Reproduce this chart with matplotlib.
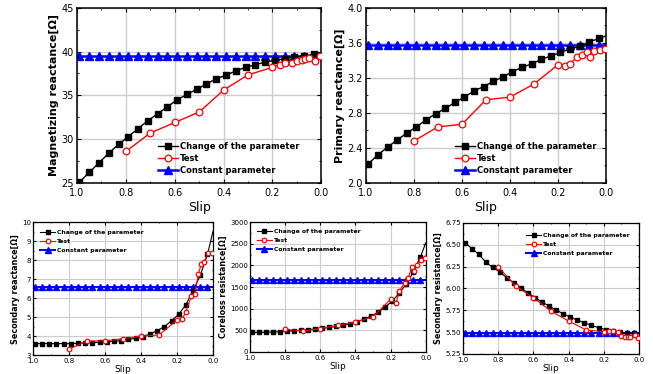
import matplotlib
matplotlib.use("Agg")
import matplotlib.pyplot as plt
from matplotlib.ticker import MultipleLocator, AutoMinorLocator, FormatStrFormatter

# ---------------- data ----------------
slip_model = [0.99, 0.95, 0.91, 0.87, 0.83, 0.79, 0.75, 0.71, 0.67, 0.63, 0.59, 0.55, 0.51,
              0.47, 0.43, 0.39, 0.35, 0.31, 0.27, 0.23, 0.19, 0.15, 0.11, 0.07, 0.03, 0.0]
slip_const = [1.0, 0.99, 0.95, 0.91, 0.87, 0.83, 0.79, 0.75, 0.71, 0.67, 0.63, 0.59, 0.55, 0.51,
              0.47, 0.43, 0.39, 0.35, 0.31, 0.27, 0.23, 0.19, 0.15, 0.11, 0.07, 0.03, 0.0]
slip_test = [0.8, 0.7, 0.6, 0.5, 0.4, 0.3, 0.2, 0.17, 0.15, 0.12, 0.1, 0.08, 0.065, 0.05, 0.025, 0.005]

mag_change = [25.1, 26.2, 27.3, 28.4, 29.4, 30.3, 31.2, 32.1, 32.9, 33.7, 34.5, 35.1, 35.7,
              36.3, 36.9, 37.3, 37.8, 38.2, 38.5, 38.8, 39.0, 39.2, 39.4, 39.5, 39.7, 39.8]
mag_test = [28.6, 30.7, 31.9, 33.1, 35.6, 37.35, 38.2, 38.5, 38.7, 38.65, 38.9, 39.05, 39.2, 39.3, 38.95, 39.5]
mag_const = 39.5

prim_change = [2.22, 2.32, 2.41, 2.49, 2.57, 2.64, 2.72, 2.79, 2.85, 2.92, 2.98, 3.05, 3.10,
               3.16, 3.21, 3.27, 3.32, 3.36, 3.41, 3.45, 3.49, 3.53, 3.56, 3.61, 3.65, 3.68]
prim_test = [2.48, 2.64, 2.67, 2.95, 2.98, 3.13, 3.35, 3.33, 3.36, 3.44, 3.46, 3.49, 3.44, 3.51, 3.52, 3.53]
prim_const = 3.58

secx_change = [3.6, 3.6, 3.6, 3.6, 3.6, 3.6, 3.62, 3.64, 3.65, 3.67, 3.70, 3.72, 3.76,
               3.82, 3.88, 3.97, 4.10, 4.28, 4.50, 4.80, 5.15, 5.65, 6.40, 7.20, 8.30, 9.50]
secx_test = [3.3, 3.74, 3.74, 3.86, 4.0, 4.05, 4.84, 4.9, 5.28, 6.1, 6.19, 7.29, 7.78, 7.9, 8.38, 8.38]
secx_const = 6.57

core_change = [450, 450, 455, 460, 470, 480, 490, 500, 515, 530, 545, 565, 590,
               620, 655, 700, 760, 830, 920, 1040, 1180, 1360, 1580, 1850, 2200, 2520]
core_test = [523, 485, 540, 615, 692, 810, 1220, 1124, 1405, 1605, 1700, 1965, 1880, 2012, 2128, 2168]
core_const = 1670

secr_change = [6.525, 6.457, 6.39, 6.30, 6.24, 6.186, 6.12, 6.065, 6.004, 5.95, 5.893, 5.844, 5.798,
               5.752, 5.71, 5.672, 5.638, 5.608, 5.577, 5.55, 5.53, 5.51, 5.50, 5.49, 5.486, 5.48]
secr_test = [6.247, 6.027, 5.893, 5.74, 5.627, 5.524, 5.505, 5.51, 5.51, 5.505, 5.455, 5.45, 5.44, 5.45, 5.463, 5.437]
secr_const = 5.485

labels = ["Change of the parameter", "Test", "Constant parameter"]

# ---------------- figure ----------------
plt.rcParams['font.family'] = ['DejaVu Sans']
fig = plt.figure(figsize=(6.53, 3.74), dpi=100)

def make_axes(rect, change, test, const, ylim, ymaj, yfmt, ylabel, big, leg_anchor):
    ax = fig.add_axes(rect)
    ms = 4.8 if big else 3.3
    lw = 1.0 if big else 0.8
    tfs = 7 if big else 5
    lfs = 8 if big else 5.8
    legfs = 6 if big else 4.4
    ax.grid(True, color='#cccccc', linewidth=1.0 if big else 0.8, zorder=0)
    ax.set_axisbelow(True)
    ax.plot(slip_model, change, color='black', marker='s', markersize=ms, linewidth=lw,
            markevery=slice(0, len(slip_model) - 1), label=labels[0], zorder=3)
    ax.plot(slip_test, test, color='red', marker='o', markersize=ms, linewidth=lw,
            markerfacecolor='white', markeredgecolor='red', markeredgewidth=0.9, label=labels[1], zorder=4)
    ax.plot(slip_const, [const] * len(slip_const), color='blue', marker='^', markersize=ms * 1.1,
            linewidth=lw * 1.8, markevery=slice(1, len(slip_const) - 1), label=labels[2], zorder=2)
    ax.set_xlim(1.0, 0.0)
    ax.set_ylim(*ylim)
    ax.xaxis.set_major_locator(MultipleLocator(0.2))
    ax.xaxis.set_minor_locator(AutoMinorLocator(2))
    ax.xaxis.set_major_formatter(FormatStrFormatter('%.1f'))
    ax.yaxis.set_major_locator(MultipleLocator(ymaj))
    ax.yaxis.set_minor_locator(AutoMinorLocator(2))
    ax.yaxis.set_major_formatter(FormatStrFormatter(yfmt))
    ax.tick_params(which='both', direction='in', top=True, right=True, labelsize=tfs)
    ax.tick_params(axis='x', which='major', pad=4 if big else 2.5)
    ax.tick_params(axis='y', which='major', pad=2.5 if big else 1.5)
    ax.tick_params(which='major', length=3 if big else 2, width=0.8)
    ax.tick_params(which='minor', length=1.5 if big else 1, width=0.6)
    for s in ax.spines.values():
        s.set_linewidth(1.1 if big else 0.9)
    ax.set_ylabel(ylabel, fontsize=lfs, fontweight='bold', labelpad=1.5)
    ax.set_xlabel("Slip", fontsize=9 if big else 6.5, labelpad=2 if big else 0.5)
    ax.legend(loc='lower left', bbox_to_anchor=leg_anchor, frameon=False,
              prop={'size': legfs, 'weight': 'bold'}, handlelength=2.4,
              handletextpad=0.3, labelspacing=0.35 if big else 0.6, borderpad=0, borderaxespad=0)
    return ax

make_axes([0.118, 0.511, 0.374, 0.468], mag_change, mag_test, mag_const, (25, 45), 5, '%d',
          "Magnetizing reactance[Ω]", True, (0.33, 0.045))
make_axes([0.5605, 0.511, 0.3675, 0.468], prim_change, prim_test, prim_const, (2.0, 4.0), 0.4, '%.1f',
          "Primary reactance[Ω]", True, (0.37, 0.045))
make_axes([0.0505, 0.0508, 0.2755, 0.355], secx_change, secx_test, secx_const, (3, 10), 1, '%d',
          "Secondary reactance[Ω]", False, (0.04, 0.77))
make_axes([0.383, 0.059, 0.269, 0.347], core_change, core_test, core_const, (0, 3000), 500, '%d',
          "Coreloss resistance[Ω]", False, (0.04, 0.77))
make_axes([0.709, 0.0535, 0.2696, 0.3505], secr_change, secr_test, secr_const, (5.25, 6.75), 0.25, '%.2f',
          "Secondary resistance[Ω]", False, (0.36, 0.75))

fig.savefig("out.png", dpi=100)
